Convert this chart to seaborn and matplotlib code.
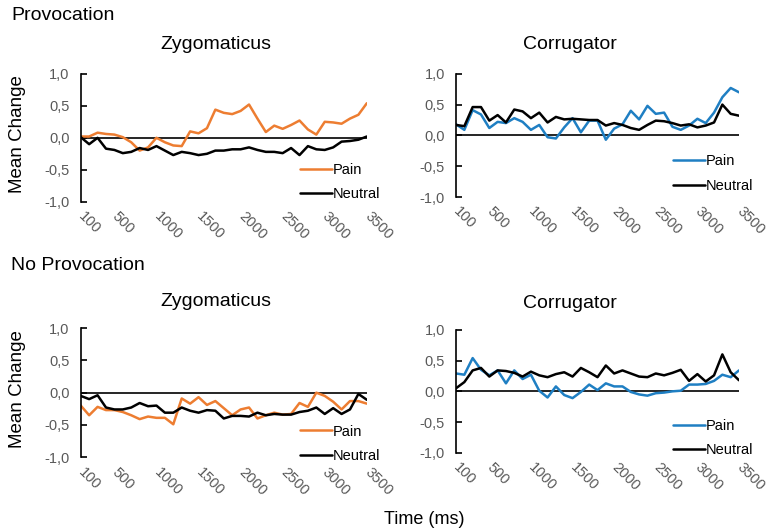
import numpy as np
import pandas as pd
import matplotlib.pyplot as plt
import seaborn as sns

# time categories (ms) and labelled ticks
time_ms = list(range(100, 3600, 100))
tick_times = [100, 500, 1000, 1500, 2000, 2500, 3000, 3500]

# Provocation - Zygomaticus
prov_zyg_pain = [0.02, 0.02, 0.08, 0.06, 0.05, 0.01, -0.07, -0.20, -0.15, 0.00,
                 -0.07, -0.12, -0.13, 0.10, 0.07, 0.15, 0.44, 0.39, 0.37, 0.42,
                 0.52, 0.30, 0.09, 0.19, 0.14, 0.20, 0.27, 0.13, 0.05, 0.25,
                 0.24, 0.22, 0.30, 0.36, 0.54]
prov_zyg_neutral = [0.01, -0.10, 0.00, -0.17, -0.19, -0.24, -0.22, -0.16, -0.19, -0.13,
                    -0.20, -0.27, -0.22, -0.24, -0.27, -0.25, -0.20, -0.20, -0.18, -0.18,
                    -0.15, -0.19, -0.22, -0.22, -0.24, -0.16, -0.27, -0.13, -0.18, -0.19,
                    -0.15, -0.06, -0.05, -0.03, 0.02]

# Provocation - Corrugator
prov_cor_pain = [0.18, 0.09, 0.41, 0.34, 0.12, 0.22, 0.20, 0.28, 0.22, 0.09,
                 0.17, -0.03, -0.05, 0.13, 0.28, 0.05, 0.24, 0.24, -0.07, 0.11,
                 0.18, 0.40, 0.26, 0.48, 0.35, 0.37, 0.14, 0.09, 0.16, 0.27,
                 0.20, 0.37, 0.62, 0.77, 0.70]
prov_cor_neutral = [0.17, 0.15, 0.46, 0.46, 0.24, 0.33, 0.21, 0.42, 0.39, 0.28,
                    0.37, 0.21, 0.30, 0.26, 0.27, 0.26, 0.25, 0.25, 0.16, 0.20,
                    0.17, 0.12, 0.09, 0.17, 0.24, 0.23, 0.20, 0.16, 0.18, 0.13,
                    0.16, 0.21, 0.50, 0.35, 0.32]

# No provocation - Zygomaticus
noprov_zyg_pain = [-0.20, -0.35, -0.22, -0.27, -0.27, -0.30, -0.35, -0.41, -0.37, -0.39,
                   -0.39, -0.49, -0.09, -0.17, -0.07, -0.19, -0.13, -0.24, -0.35, -0.26,
                   -0.23, -0.40, -0.35, -0.31, -0.34, -0.33, -0.16, -0.22, 0.00, -0.05,
                   -0.14, -0.26, -0.13, -0.13, -0.17]
noprov_zyg_neutral = [-0.05, -0.10, -0.04, -0.23, -0.26, -0.26, -0.23, -0.16, -0.21, -0.20,
                      -0.31, -0.31, -0.23, -0.28, -0.31, -0.27, -0.28, -0.40, -0.36, -0.36,
                      -0.37, -0.31, -0.35, -0.33, -0.34, -0.34, -0.30, -0.28, -0.23, -0.33,
                      -0.24, -0.33, -0.26, -0.02, -0.11]

# No provocation - Corrugator
noprov_cor_pain = [0.29, 0.27, 0.54, 0.35, 0.26, 0.34, 0.13, 0.34, 0.20, 0.27,
                   0.01, -0.10, 0.08, -0.06, -0.11, -0.01, 0.11, 0.02, 0.13, 0.08,
                   0.08, -0.01, -0.05, -0.07, -0.03, -0.02, 0.00, 0.01, 0.11, 0.11,
                   0.12, 0.17, 0.27, 0.23, 0.34]
noprov_cor_neutral = [0.05, 0.15, 0.34, 0.38, 0.24, 0.34, 0.33, 0.30, 0.24, 0.32,
                      0.26, 0.23, 0.28, 0.31, 0.24, 0.38, 0.31, 0.23, 0.42, 0.29,
                      0.34, 0.29, 0.24, 0.23, 0.29, 0.26, 0.30, 0.35, 0.17, 0.28,
                      0.16, 0.26, 0.60, 0.31, 0.18]

orange = '#ED7D31'
blue = '#1F7FC3'
grey_text = '#595959'

sns.set_style('white')
plt.rcParams['font.family'] = ['Liberation Sans', 'DejaVu Sans']
plt.rcParams['text.color'] = 'black'


def panel_frame(pain, neutral):
    n = len(time_ms)
    return pd.DataFrame({'pos': list(range(n)) * 2,
                         'value': pain + neutral,
                         'condition': ['Pain'] * n + ['Neutral'] * n})


def draw_panel(ax, pain, neutral, color, title, title_x, title_pad, legend_y):
    df = panel_frame(pain, neutral)
    sns.lineplot(data=df, x='pos', y='value', hue='condition',
                 palette={'Pain': color, 'Neutral': 'black'},
                 linewidth=1.8, ax=ax)
    ax.axhline(0, color='black', linewidth=1.2, zorder=1)
    ax.set_xlim(0, len(time_ms) - 1)
    ax.set_ylim(-1, 1)
    ax.set_yticks([-1, -0.5, 0, 0.5, 1])
    ax.set_yticklabels(['-1,0', '-0,5', '0,0', '0,5', '1,0'])
    ax.set_xticks([time_ms.index(t) for t in tick_times])
    ax.set_xticklabels([str(t) for t in tick_times], rotation=-45,
                       ha='left', va='center', rotation_mode='anchor')
    ax.tick_params(axis='x', length=0, pad=9, labelsize=10.5, labelcolor=grey_text)
    ax.tick_params(axis='y', direction='in', length=4, width=1.2, color='black',
                   left=True, pad=8, labelsize=10.5, labelcolor=grey_text)
    for side in ['top', 'right', 'bottom']:
        ax.spines[side].set_visible(False)
    ax.spines['left'].set_color('black')
    ax.spines['left'].set_linewidth(1.2)
    ax.set_xlabel('')
    ax.set_ylabel('')
    ax.set_title(title, fontsize=14, pad=title_pad, color='black', x=title_x)
    handles, labels = ax.get_legend_handles_labels()
    ax.legend(handles, labels, loc='center left', bbox_to_anchor=(0.745, legend_y),
              frameon=False, fontsize=10.5, handlelength=2.2, handletextpad=0.1,
              labelspacing=0.7, borderaxespad=0)


fig = plt.figure(figsize=(7.69, 5.31), dpi=100)
ax_tl = fig.add_axes([0.105, 0.620, 0.372, 0.241])
ax_tr = fig.add_axes([0.593, 0.629, 0.368, 0.232])
ax_bl = fig.add_axes([0.105, 0.139, 0.372, 0.243])
ax_br = fig.add_axes([0.593, 0.147, 0.368, 0.232])

draw_panel(ax_tl, prov_zyg_pain, prov_zyg_neutral, orange, 'Zygomaticus', 0.473, 18, 0.155)
draw_panel(ax_tr, prov_cor_pain, prov_cor_neutral, blue, 'Corrugator', 0.403, 18, 0.19)
draw_panel(ax_bl, noprov_zyg_pain, noprov_zyg_neutral, orange, 'Zygomaticus', 0.473, 16, 0.105)
draw_panel(ax_br, noprov_cor_pain, noprov_cor_neutral, blue, 'Corrugator', 0.403, 16, 0.12)

fig.text(11 / 769, 1 - 15 / 531, 'Provocation', fontsize=14, va='center', ha='left')
fig.text(11 / 769, 1 - 265 / 531, 'No Provocation', fontsize=14, va='center', ha='left')
fig.text(18 / 769, 1 - 134 / 531, 'Mean Change', fontsize=13.5, rotation=90, va='center', ha='center')
fig.text(18 / 769, 1 - 389 / 531, 'Mean Change', fontsize=13.5, rotation=90, va='center', ha='center')
fig.text(424 / 769, 1 - 520 / 531, 'Time (ms)', fontsize=13, va='center', ha='center')

fig.savefig('out.png', dpi=100)
